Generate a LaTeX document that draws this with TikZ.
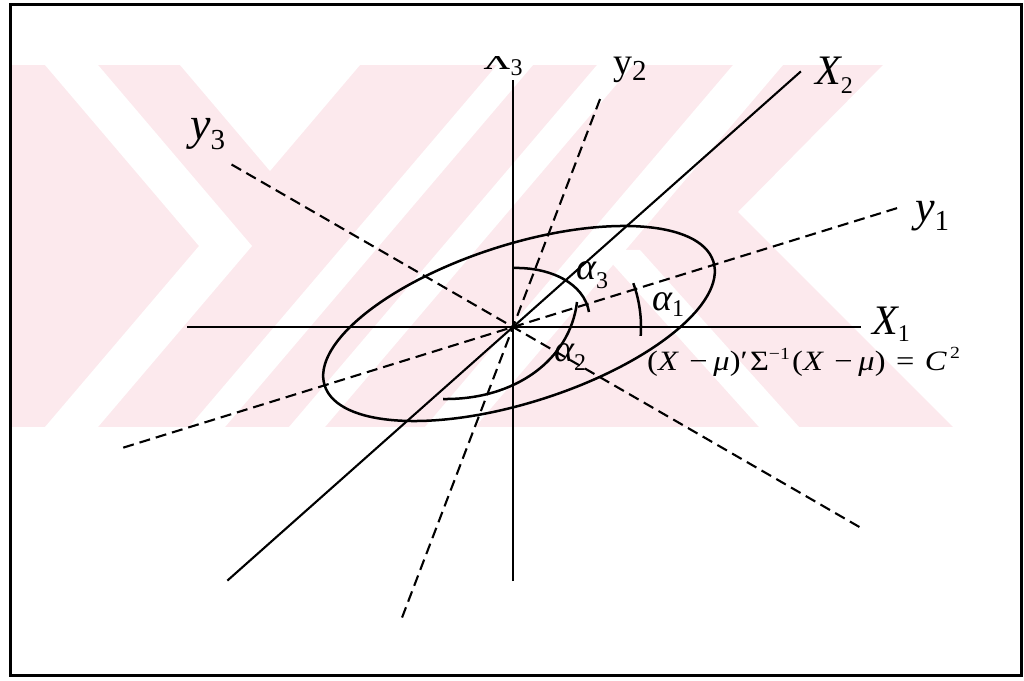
\documentclass[tikz,border=0pt]{standalone}
\usepackage{fontspec}
\setmainfont{Liberation Serif}
\usetikzlibrary{calc}
\definecolor{wmpink}{RGB}{252,233,237}
\newcommand\lsub[2][-9pt]{\raisebox{#1}{\fontsize{24}{24}\selectfont\upshape #2}}
\newcommand\bsub[2][-9pt]{\raisebox{#1}{\fontsize{29}{29}\selectfont\upshape #2}}
\newcommand\fsup[2][11pt]{\raisebox{#1}{\fontsize{17}{17}\selectfont #2}}
\begin{document}
\begin{tikzpicture}[x=1pt,y=1pt,
  axis/.style={line width=2.1pt},
  thinaxis/.style={line width=1.5pt},
  daxis/.style={line width=2.1pt, dash pattern=on 11pt off 6pt},
  curve/.style={line width=2.5pt},
  wm/.style={fill=white, draw=none},
  lbl/.style={inner sep=0pt, anchor=base west, font=\fontsize{42}{44}\selectfont\itshape},
  ulbl/.style={inner sep=0pt, anchor=base west, font=\fontsize{38}{40}\selectfont},
  albl/.style={inner sep=0pt, anchor=base west, font=\fontsize{38}{40}\selectfont\itshape},
  fml/.style={inner sep=0pt, anchor=base west, font=\fontsize{28}{30}\selectfont}]
\useasboundingbox (0,0) rectangle (1024,680);
\fill[white] (0,0) rectangle (1024,680);
% watermark (pixel coordinates, y downwards)
\begin{scope}[yshift=680pt, yscale=-1]
  \clip (12,65) rectangle (1010,427);
  \fill[wmpink] (12,65) rectangle (1010,427);
  \fill[wm] (45,65) -- (98,65) -- (252,246) -- (98,427) -- (45,427) -- (199,246) -- cycle;
  \fill[wm] (180,65) -- (360,65) -- (270,171) -- cycle;
  \fill[wm] (497,65) -- (533,65) -- (225,427) -- (189,427) -- cycle;
  \fill[wm] (597,65) -- (633,65) -- (325,427) -- (289,427) -- cycle;
  \fill[wm] (733,65) -- (783,65) -- (475,427) -- (425,427) -- cycle;
  \fill[wm] (600,250) -- (640,250) -- (799,427) -- (759,427) -- cycle;
  \fill[wm] (883,65) -- (1010,65) -- (1010,427) -- (953,427) -- (738,212) -- cycle;
\end{scope}
% frame
\draw[line width=3pt] (10,5) rectangle (1021,675);
% origin and axis ends
\coordinate (O) at (513,353);
\coordinate (x1a) at (187,353);
\coordinate (x1b) at (861,353);
\coordinate (x3a) at (513,600);
\coordinate (x3b) at (513,99);
\coordinate (x2a) at ($(O)+(221.6:382)$);
\coordinate (x2b) at ($(O)+(41.6:385)$);
\coordinate (y2a) at ($(O)+(249.1:311)$);
\coordinate (y2b) at ($(O)+(69.1:245)$);
\coordinate (y3a) at ($(O)+(150:325)$);
\coordinate (y3b) at ($(O)+(-30:400)$);
\coordinate (y1a) at ($(O)+(197.2:408)$);
\coordinate (y1b) at ($(O)+(17.2:405)$);
% axes
\draw[axis] (x1a) -- (x1b);
\draw[thinaxis] (x3b) -- (x3a);
\draw[axis] (x2a) -- (x2b);
\draw[daxis] (y2a) -- (y2b);
\draw[daxis] (y3a) -- (y3b);
\draw[daxis] (y1a) -- (y1b);
% ellipse
\draw[curve, rotate around={17.7:(519,356.5)}] (519,356.5) ellipse [x radius=204, y radius=79];
% angle arcs
\draw[curve] (O) ++(-4:128) arc[start angle=-4, end angle=20, radius=128];
\draw[curve] (513,412) .. controls (550,413) and (584,397) .. (589,368);
\draw[curve] (577,378) .. controls (570,320) and (515,280) .. (443,281);
% labels
\node[lbl] (lx1) at (872,345) {X\lsub[-7pt]{1}};
\node[lbl] (lx2) at (815,595) {X\lsub{2}};
\begin{scope}
  \clip (470,623) rectangle (560,590);
  \node[ulbl] (lx3) at (483,610) {X\lsub[-6pt]{3}};
\end{scope}
\node[ulbl] (ly2) at (613,605) {y\bsub[-6pt]{2}};
\node[lbl, font=\fontsize{46}{48}\selectfont\itshape] (ly3) at (190,540) {y\bsub[-10pt]{3}};
\node[lbl, font=\fontsize{44}{46}\selectfont\itshape] (ly1) at (915,458) {y\bsub[-9pt]{1}};
\node[albl] (la3) at (576,400) {α\lsub{3}};
\node[albl] (la1) at (652,369) {α\lsub[-6pt]{1}};
\node[albl] (la2) at (554,318) {α\lsub{2}};
\node[fml] (f) at (647,309) {\scalebox{1.16}[1]{(\textit{X}\hspace{9pt}−\hspace{5pt}\textit{μ})′\hspace{2pt}Σ\fsup{−1}\hspace{2pt}(\textit{X}\hspace{9pt}−\hspace{5pt}\textit{μ})\hspace{9pt}=\hspace{9pt}\textit{C}\hspace{3pt}\fsup[12pt]{2}}};
\end{tikzpicture}
\end{document}
